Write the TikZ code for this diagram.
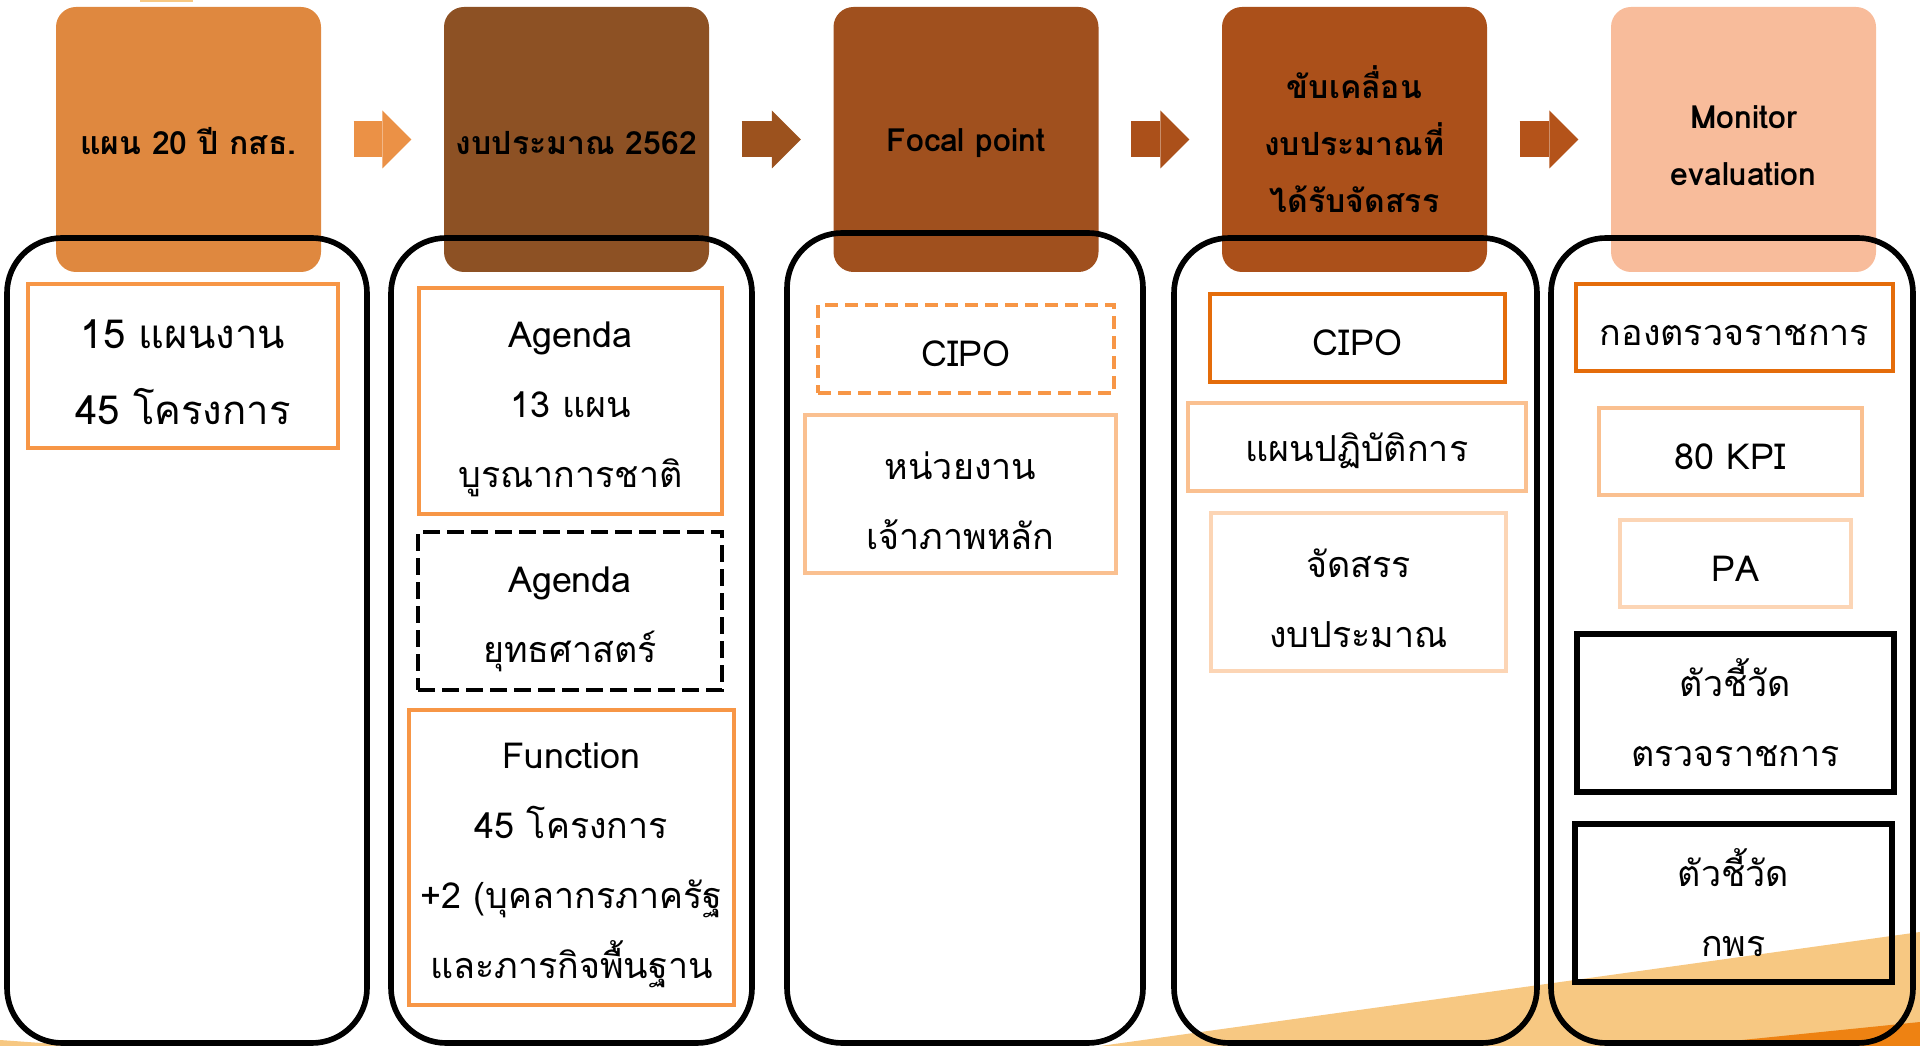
\documentclass[tikz,border=0pt]{standalone}
\usepackage{fontspec}
\setmainfont[Script=Thai]{Loma}
\usetikzlibrary{arrows.meta}

\definecolor{headA}{RGB}{223,136,63}
\definecolor{headB}{RGB}{141,81,36}
\definecolor{headC}{RGB}{160,80,30}
\definecolor{headD}{RGB}{171,80,26}
\definecolor{headE}{RGB}{248,188,155}
\definecolor{arrowA}{RGB}{235,145,70}
\definecolor{arrowB}{RGB}{156,82,30}
\definecolor{arrowC}{RGB}{171,80,26}
\definecolor{arrowD}{RGB}{180,83,26}
\definecolor{boxorange}{RGB}{247,150,70}
\definecolor{darkorange}{RGB}{228,108,10}
\definecolor{lightorange}{RGB}{250,192,144}
\definecolor{paleorange}{RGB}{252,213,181}
\definecolor{wedgelight}{RGB}{247,200,130}
\definecolor{wedgedark}{RGB}{238,130,18}

\newcommand{\padtop}[1][0.42cm]{\rule{0pt}{#1}}

\begin{document}
\begin{tikzpicture}[
    head/.style={rounded corners=0.2cm, minimum width=2.65cm, minimum height=2.65cm, inner sep=0pt, align=center, font=\fontsize{9.1}{16.2}\selectfont\bfseries, execute at begin node={\rule{0pt}{0.31cm}}},
    column/.style={draw, line width=1.6pt, rounded corners=0.55cm, minimum height=8.05cm, inner sep=0pt},
    item/.style={draw=boxorange, line width=1.4pt, align=center, inner sep=0pt, font=\fontsize{10.2}{19.9}\selectfont, execute at begin node={\rule{0pt}{0.36cm}}},
    flow/.style={line width=0.36cm, shorten <=0.32cm, shorten >=0.32cm, -{Triangle[length=0.29cm, width=0.58cm, line width=0pt]}},
  ]
  \useasboundingbox (0,0) rectangle (19.2,-10.46);

  % Fundo
  \fill[wedgelight] (11.0,-10.46) -- (19.2,-9.32) -- (19.2,-10.46) -- cycle;
  \fill[wedgedark] (16.83,-10.46) -- (19.2,-10.22) -- (19.2,-10.46) -- cycle;
  \fill[wedgelight] (0,-10.40) -- (0.83,-10.46) -- (0,-10.46) -- cycle;
  \fill[wedgelight] (1.40,0) rectangle (1.93,-0.025);

  % Etapas
  \node[head, fill=headA] (h1) at (1.885,-1.395) {แผน 20 ปี กสธ.};
  \node[head, fill=headB] (h2) at (5.765,-1.395) {งบประมาณ 2562};
  \node[head, fill=headC] (h3) at (9.66,-1.395) {Focal point};
  \node[head, fill=headD] (h4) at (13.545,-1.395) {ขับเคลื่อน\\งบประมาณที่\\ได้รับจัดสรร};
  \node[head, fill=headE] (h5) at (17.435,-1.395) {\padtop[0.35cm]Monitor\\evaluation};

  % Setas
  \draw[flow, arrowA] (h1) -- (h2);
  \draw[flow, arrowB] (h2) -- (h3);
  \draw[flow, arrowC] (h3) -- (h4);
  \draw[flow, arrowD] (h4) -- (h5);

  % Colunas
  \node[column, minimum width=3.60cm] (c1) at (1.87,-6.405) {};
  \node[column, minimum width=3.61cm] (c2) at (5.715,-6.405) {};
  \node[column, minimum width=3.56cm, minimum height=8.10cm] (c3) at (9.65,-6.38) {};
  \node[column, minimum width=3.63cm] (c4) at (13.555,-6.405) {};
  \node[column, minimum width=3.62cm] (c5) at (17.32,-6.405) {};

  % Coluna 1
  \node[item, minimum width=3.10cm, minimum height=1.64cm, font=\fontsize{11.4}{21.6}\selectfont] (p1) at (1.83,-3.66) {\padtop 15 แผนงาน\\45 โครงการ};

  % Coluna 2
  \node[item, minimum width=3.03cm, minimum height=2.26cm] (b1) at (5.705,-4.01) {\padtop Agenda\\13 แผน\\บูรณาการชาติ};
  \node[item, draw=black, dash pattern=on 0.17cm off 0.07cm, minimum width=3.04cm, minimum height=1.58cm] (b2) at (5.70,-6.11) {\padtop Agenda\\ยุทธศาสตร์};
  \node[item, minimum width=3.25cm, minimum height=2.95cm] (b3) at (5.715,-8.575) {\padtop Function\\45 โครงการ\\+2 (บุคลากรภาครัฐ\\และภารกิจพื้นฐาน};

  % Coluna 3
  \node[item, dash pattern=on 0.13cm off 0.07cm, minimum width=2.96cm, minimum height=0.88cm] (f1) at (9.66,-3.49) {CIPO};
  \node[item, draw=lightorange, minimum width=3.11cm, minimum height=1.58cm] (f2) at (9.605,-4.94) {\padtop หน่วยงาน\\เจ้าภาพหลัก};

  % Coluna 4
  \node[item, draw=darkorange, minimum width=2.95cm, minimum height=0.88cm] (d1) at (13.575,-3.38) {CIPO};
  \node[item, draw=lightorange, minimum width=3.38cm, minimum height=0.88cm] (d2) at (13.57,-4.47) {แผนปฏิบัติการ};
  \node[item, draw=paleorange, minimum width=2.95cm, minimum height=1.58cm] (d3) at (13.585,-5.92) {\padtop จัดสรร\\งบประมาณ};

  % Coluna 5
  \node[item, draw=darkorange, minimum width=3.17cm, minimum height=0.87cm] (m1) at (17.345,-3.275) {กองตรวจราชการ};
  \node[item, draw=lightorange, minimum width=2.63cm, minimum height=0.87cm] (m2) at (17.305,-4.515) {80 KPI};
  \node[item, draw=paleorange, minimum width=2.31cm, minimum height=0.87cm] (m3) at (17.355,-5.635) {PA};
  \node[item, draw=black, line width=1.6pt, minimum width=3.17cm, minimum height=1.58cm] (m4) at (17.355,-7.13) {ตัวชี้วัด\\ตรวจราชการ};
  \node[item, draw=black, line width=1.6pt, minimum width=3.17cm, minimum height=1.58cm] (m5) at (17.335,-9.03) {ตัวชี้วัด\\กพร};
\end{tikzpicture}
\end{document}
